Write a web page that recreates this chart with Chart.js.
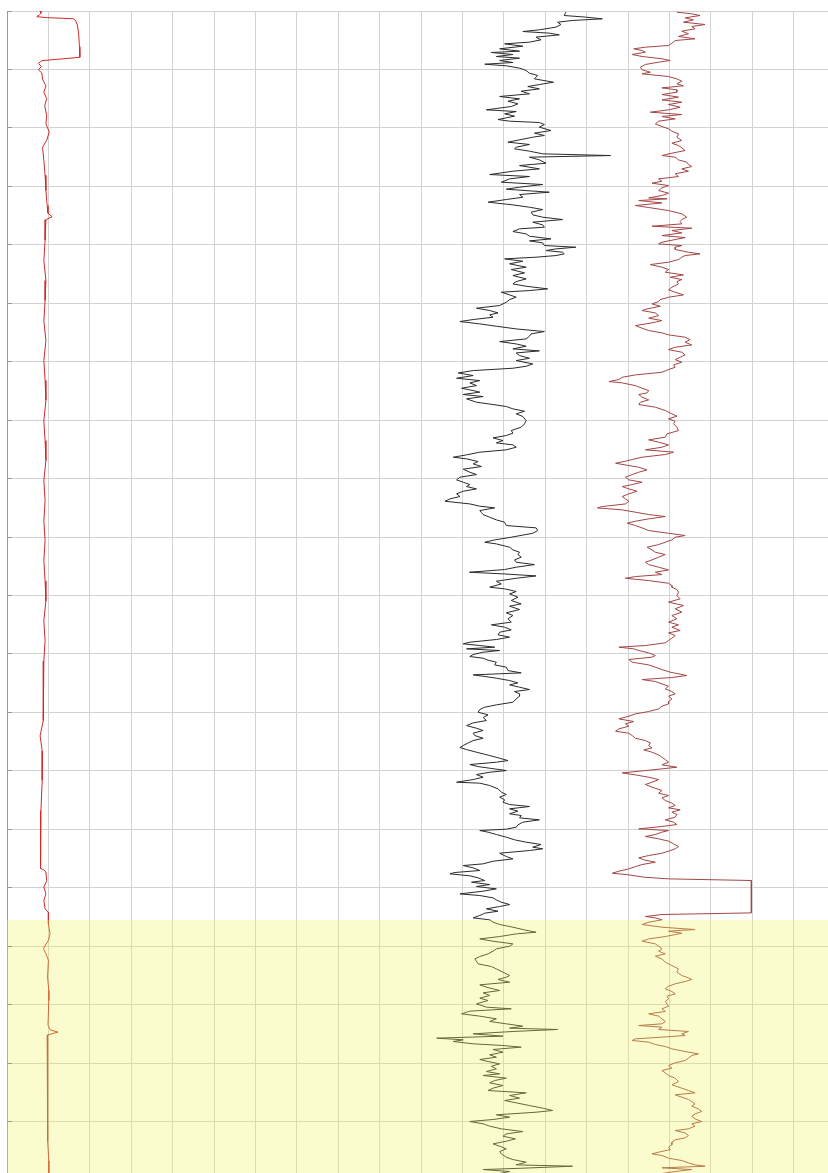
<!DOCTYPE html>
<html>
<head>
<meta charset="utf-8">
<style>
  html, body { margin: 0; padding: 0; background: #ffffff; overflow: hidden; }
  canvas { display: block; }
</style>
<script src="https://cdn.jsdelivr.net/npm/chart.js@4/dist/chart.umd.min.js"></script>
</head>
<body>
<canvas id="logChart" width="850" height="1195"></canvas>
<script>
// Depth / value pairs for each log track: [depth, reading]
const spLog = [
  [0.0,8.0],[0.4,8.2],[0.68,7.8],[0.97,7.2],[1.14,9.6],[1.31,16.0],[1.66,16.6],[2.39,17.0],[3.82,17.3],[6.1,17.5],
  [7.92,17.6],[8.5,8.4],[8.95,7.6],[9.5,8.3],[10.07,7.6],[10.6,8.4],[11.7,8.6],[12.8,9.4],[13.9,8.9],[15.0,9.6],
  [16.2,9.1],[17.9,9.6],[19.3,9.4],[20.7,10.2],[22.1,9.6],[23.3,8.6],[25.6,8.9],[28.1,9.2],[30.7,9.4],[33.3,9.7],
  [34.6,9.9],[35.2,10.9],[35.7,9.4],[39.2,9.2],[42.7,8.9],[46.1,9.4],[49.5,9.2],[53.0,8.9],[56.4,9.4],[59.8,8.9],
  [63.2,9.2],[66.6,9.4],[70.1,8.9],[73.5,9.2],[76.9,9.4],[80.3,8.9],[83.8,9.2],[87.2,8.9],[90.6,9.2],[94.0,8.9],
  [97.5,9.2],[100.9,9.4],[104.3,8.9],[107.7,9.2],[111.2,8.9],[114.6,8.7],[118.0,8.9],[121.4,8.7],[124.0,8.0],[126.6,8.5],
  [131.6,8.5],[136.8,8.2],[141.9,8.2],[146.7,8.0],[146.9,8.8],[147.3,9.4],[148.8,9.6],[149.9,8.9],[151.0,9.4],[152.2,8.9],
  [153.6,9.2],[154.2,10.0],[156.2,10.0],[157.9,10.4],[159.0,10.0],[160.4,8.8],[161.3,9.4],[162.4,10.0],[165.3,9.8],[167.6,10.1],
  [169.3,10.1],[173.5,9.9],[174.3,10.4],[174.7,12.3],[175.2,9.7],[179.6,9.7],[183.0,9.9],[186.4,9.9],[189.8,9.7],[193.3,9.9],
  [196.7,10.1],[200.0,10.1]
];

const grLog = [
  [0.20,135.0],[0.77,134.6],[1.05,139.8],[1.34,143.8],[1.62,136.6],[1.91,133.0],[2.31,133.8],[2.76,132.6],[3.22,128.6],[3.51,124.6],
  [3.79,131.0],[4.08,133.4],[4.47,127.8],[4.93,129.0],[5.33,126.2],[5.62,120.2],[6.02,124.6],[6.47,119.0],[6.87,123.8],[7.10,117.0],
  [7.44,122.2],[7.78,118.2],[8.07,123.8],[8.47,119.0],[8.81,122.2],[9.10,115.4],[9.38,120.6],[9.78,123.8],[10.18,125.4],[10.64,126.2],
  [11.03,128.2],[11.61,127.4],[12.18,132.0],[12.58,128.6],[12.92,125.8],[13.32,128.6],[13.72,124.2],[14.17,126.2],[14.63,119.0],[15.03,123.8],
  [15.43,121.0],[15.88,123.4],[16.34,121.8],[16.91,115.8],[17.20,123.0],[17.60,120.2],[17.99,122.6],[18.28,120.6],[18.57,118.6],[18.85,121.4],
  [19.08,128.6],[19.42,129.8],[19.88,128.6],[20.45,131.4],[20.90,127.4],[21.30,129.8],[21.59,127.0],[22.44,121.0],[22.84,126.2],[23.30,123.0],
  [23.58,122.6],[23.98,126.2],[24.44,129.4],[24.73,145.8],[25.01,126.2],[25.47,128.6],[26.04,130.2],[26.44,123.8],[27.01,128.6],[27.41,122.2],
  [27.98,116.6],[28.32,126.2],[28.72,121.4],[29.29,119.4],[29.69,129.4],[30.14,123.8],[30.49,120.6],[31.00,131.0],[31.40,123.8],
  [31.86,124.6],[32.25,120.6],[32.71,116.2],[33.17,122.2],[33.57,126.2],[33.97,129.4],[34.42,126.6],[34.88,127.0],[35.28,129.4],[35.68,134.2],
  [36.13,127.0],[36.59,129.4],[36.99,129.8],[37.27,123.8],[37.73,122.2],[38.13,125.4],[38.53,126.2],[38.99,131.4],[39.33,126.2],[39.67,129.4],
  [40.13,129.8],[40.41,137.4],[40.70,132.6],[40.98,130.2],[41.27,134.2],[41.55,134.6],[41.84,132.6],[42.12,127.8],[42.41,120.2],[42.81,124.6],
  [43.26,121.4],[43.83,125.4],[44.23,121.8],[44.80,125.0],[45.26,122.2],[45.83,125.4],[46.29,123.0],[46.69,122.2],[47.09,125.4],[47.54,130.6],
  [47.83,126.2],[48.11,119.4],[48.57,121.4],[48.97,123.0],[49.37,121.4],[49.82,120.6],[50.39,119.0],[50.85,113.4],[51.25,116.6],[51.65,118.6],
  [51.99,116.6],[52.39,117.4],[52.79,112.6],[53.13,109.4],[53.53,114.2],[53.93,118.2],[54.39,123.0],[54.84,129.8],[55.24,126.6],[55.64,126.2],
  [56.10,125.4],[56.56,119.0],[56.96,123.0],[57.35,125.4],[57.81,122.2],[58.15,128.6],[58.50,123.0],[58.95,123.8],[59.41,126.2],[59.81,123.0],
  [60.38,127.0],[60.78,125.4],[61.12,122.2],[61.52,112.6],[61.92,109.0],[62.37,112.6],[62.83,108.6],[63.23,114.2],[63.63,111.8],[64.09,113.4],
  [64.54,109.8],[64.94,112.6],
  [65.21,114.2],[65.61,110.2],[65.96,115.0],[66.36,111.0],[66.93,113.4],[67.33,117.4],[67.67,120.6],[68.07,122.2],[68.47,125.0],[68.92,123.0],
  [69.38,124.6],[70.06,125.4],[70.63,125.0],[71.20,124.2],[71.78,121.8],[72.23,122.2],[72.63,120.6],[73.03,117.4],[73.49,119.8],[73.89,118.2],
  [74.23,122.2],[74.63,123.0],[75.08,120.6],[75.48,114.2],[75.94,111.0],[76.34,107.8],[76.62,111.0],[77.08,113.8],[77.48,112.6],[77.94,114.6],
  [78.39,110.2],[78.91,111.8],[79.31,113.4],[79.76,109.4],[80.22,108.6],[80.62,110.2],[81.02,111.8],[81.36,111.0],[81.76,113.4],[82.16,110.2],
  [82.61,108.6],[83.07,109.4],[83.47,107.0],[83.87,105.8],[84.33,111.8],[84.72,114.2],[85.01,117.8],[85.47,114.2],[85.81,114.6],[86.15,115.0],
  [86.61,116.6],[87.06,118.2],[87.46,120.2],[88.03,120.6],[88.43,127.8],[88.89,128.2],[89.35,127.0],[90.03,121.8],[90.49,117.8],[90.89,115.4],
  [91.17,118.2],[91.74,121.4],[92.20,122.2],[92.60,123.8],[92.99,123.4],[93.45,124.2],[93.91,122.6],[94.31,123.0],[94.71,127.4],[95.16,123.0],
  [95.56,120.2],[96.02,111.7],[96.30,119.8],[96.65,127.8],[97.05,123.0],[97.56,118.2],[98.02,119.4],
  [98.58,116.6],[98.86,120.2],[99.32,123.0],[99.72,121.4],[100.29,123.4],[100.86,121.8],[101.43,124.2],[101.83,121.4],[102.40,123.8],[102.97,120.6],
  [103.42,122.2],[103.99,121.0],[104.56,121.8],[105.02,117.0],[105.42,120.2],[105.88,121.8],[106.28,119.0],[106.73,118.6],[107.13,121.4],[107.53,118.2],
  [107.99,111.8],[108.27,110.2],[108.56,114.2],[108.84,117.8],[109.13,111.0],[109.41,119.0],[109.70,115.0],[110.10,112.6],[110.44,111.8],[110.73,115.0],
  [111.07,116.2],[111.41,118.2],[111.87,117.8],[112.27,120.6],[112.84,121.0],[113.24,124.2],[113.58,112.6],[113.81,115.0],[114.15,118.2],[114.55,121.4],
  [114.95,123.4],[115.29,121.4],[115.69,123.8],[116.09,126.2],[116.43,122.6],[116.83,123.8],[117.23,123.8],[117.69,123.0],[118.26,122.2],[118.71,118.2],
  [119.11,115.4],[119.51,114.2],[119.97,113.8],[120.42,116.2],[120.88,115.0],[121.39,115.8],[121.79,112.6],[122.25,111.0],[122.71,113.4],[123.10,115.0],
  [123.56,112.6],[123.96,113.0],[124.42,115.0],[124.82,112.6],[125.22,111.4],[125.67,110.2],[126.01,109.4],[126.36,111.0],[126.81,113.4],[127.38,116.6],
  [127.84,119.0],[128.24,121.0],[128.52,118.2],[128.92,111.8],[129.27,113.8],[129.55,116.6],[129.95,120.6],[130.24,116.6],[130.63,113.4],[131.09,115.0],
  [131.49,112.6],
  [131.94,108.6],[132.11,114.2],[132.51,116.6],[133.08,118.6],[133.65,119.4],[134.05,120.6],[134.50,119.0],[134.96,120.2],[135.36,119.8],[135.76,121.4],
  [136.10,126.2],[136.50,121.4],[136.90,123.4],[137.35,121.4],[137.64,124.2],[138.04,123.8],[138.38,128.6],[138.78,124.6],[139.24,123.4],[139.64,123.0],
  [139.98,120.6],[140.21,114.2],[140.49,116.2],[140.89,118.2],[141.35,120.6],[141.80,122.6],[142.20,125.4],[142.60,129.0],[143.06,127.0],[143.34,129.4],
  [143.63,126.2],[144.09,119.0],[144.66,120.6],[145.06,122.2],[145.46,117.4],[145.91,115.0],[146.20,110.2],[146.60,112.6],[147.05,114.2],[147.39,108.2],
  [147.62,107.0],[147.96,111.8],[148.31,113.8],[148.76,115.4],[149.05,112.2],[149.45,116.6],[149.79,113.4],[150.19,118.2],[150.59,115.0],[151.05,109.4],
  [151.33,114.2],[151.73,117.4],[152.07,118.2],[152.47,119.4],[152.87,121.4],[153.21,119.0],[153.61,115.8],[154.01,118.6],[154.35,115.4],[154.75,114.2],
  [155.15,112.6],[155.49,116.6],[155.89,117.4],[156.29,119.0],[156.75,122.2],[157.21,125.0],[157.61,127.8],[157.89,123.0],[158.35,119.0],[158.75,114.2],
  [159.15,117.4],[159.60,122.2],[160.00,121.4],[160.46,118.2],[160.86,117.4],[161.31,116.2],[161.77,114.2],[162.17,113.0],[162.57,113.4],[163.02,113.8],
  [163.48,117.0],[163.88,118.2],[164.45,119.8],[165.02,121.4],
  [165.30,120.6],[165.69,118.6],[166.15,121.4],[166.61,114.2],[167.01,115.8],[167.58,119.0],[167.98,115.0],[168.43,116.6],[168.89,114.2],[169.29,116.2],
  [169.86,113.4],[170.43,115.8],[170.71,121.8],[171.11,111.8],[171.57,109.8],[171.97,114.2],[172.43,118.2],[172.88,116.6],[173.28,120.6],[173.68,124.6],
  [174.02,121.4],[174.25,133.0],[174.59,122.2],[174.99,112.6],[175.39,119.8],[175.73,103.8],[176.02,110.2],[176.30,107.8],[176.70,112.6],[176.99,119.8],
  [177.27,124.2],[177.67,117.4],[178.13,119.8],[178.59,116.6],[178.99,118.2],[179.38,114.2],[179.73,116.2],[180.13,119.0],[180.53,117.0],[180.98,118.2],
  [181.44,115.8],[181.84,119.0],[182.12,115.0],[182.58,120.6],[182.98,117.8],[183.38,116.6],[183.83,119.8],[184.29,117.4],[184.69,116.2],[185.09,125.4],
  [185.55,121.4],[186.00,123.8],[186.40,120.2],[186.80,123.0],[187.26,126.2],[187.71,129.4],[188.11,131.8],[188.40,127.8],[188.85,118.2],[189.25,121.4],
  [189.65,117.4],[189.99,111.8],[190.39,115.0],[190.79,116.6],[191.25,119.4],[191.71,124.6],[192.11,120.6],[192.51,119.8],[192.96,122.8],[193.36,120.6],
  [193.82,117.4],[194.22,119.0],[194.67,120.6],[195.13,119.0],[195.53,119.4],[196.10,120.6],[196.50,122.2],[196.95,125.4],[197.41,123.0],[197.64,136.6],
  [197.98,124.6],[198.21,115.0],[198.55,121.4],[198.89,119.0]
];

const rtLog = [
  [0.20,161.8],[0.48,165.4],[0.77,167.4],[1.17,163.8],[1.51,165.8],[1.91,163.4],[2.31,168.6],[2.65,165.4],[3.05,166.2],[3.45,163.0],
  [3.90,164.6],[4.36,162.2],[4.76,166.2],[5.05,161.4],[5.50,160.6],[5.90,159.8],[6.19,154.2],[6.47,151.4],[6.76,153.4],[7.04,154.2],
  [7.44,151.0],[7.78,153.4],[8.18,158.2],[8.47,160.2],[8.75,157.4],[9.15,154.2],[9.61,153.0],[10.07,153.4],[10.47,155.4],[10.75,153.4],
  [11.21,159.8],[11.61,161.8],[12.01,163.0],[12.46,161.8],[12.80,163.4],[13.15,158.2],[13.49,161.8],[13.89,161.8],[14.29,158.2],[14.74,162.2],
  [15.20,158.2],[15.60,163.0],[16.00,159.8],[16.46,162.6],[16.91,159.8],[17.31,155.4],[17.71,163.0],[18.05,158.2],[18.45,161.4],[18.85,157.4],
  [19.31,156.6],[19.76,158.2],[20.16,159.8],[20.56,160.6],[21.02,162.2],[21.59,161.8],[22.16,163.0],[22.62,160.6],[23.02,162.2],[23.42,163.0],
  [23.87,163.8],[24.33,160.6],[24.73,158.2],[25.01,161.4],[25.47,162.2],[25.87,164.2],[26.27,164.6],[26.61,165.4],[27.01,163.0],[27.41,164.6],
  [27.86,161.4],[28.32,162.2],[28.72,157.4],[29.12,158.2],[29.46,155.8],[29.86,159.8],[30.26,158.2],[30.72,157.4],[31.17,159.8],[31.57,158.2],
  [31.97,155.0],
  [32.14,159.4],[32.43,152.6],[32.83,158.2],[33.28,151.8],[33.62,155.0],[34.14,159.8],[34.71,163.0],[35.28,164.2],[35.68,163.0],[36.02,162.6],
  [36.42,163.0],[36.82,155.8],[37.16,165.4],[37.56,160.6],[37.96,163.0],[38.42,158.2],[38.76,163.8],[39.10,161.4],[39.56,158.2],[39.84,157.4],
  [40.13,163.0],[40.41,161.4],[40.81,161.4],[41.27,164.6],[41.55,167.4],[41.84,163.8],[42.12,163.0],[42.52,162.2],[42.98,159.8],[43.38,155.4],
  [43.83,158.2],[44.23,159.8],[44.69,159.0],[45.15,163.4],[45.55,160.2],[45.95,163.0],[46.29,161.8],[46.69,162.2],[47.26,160.6],[47.71,159.8],
  [48.11,161.4],[48.57,163.4],[48.97,159.8],[49.37,157.8],[49.71,157.4],[50.11,155.8],[50.51,157.8],[50.97,154.6],[51.25,153.4],[51.65,156.6],
  [52.11,157.4],[52.56,155.0],[52.96,158.2],[53.36,155.8],[53.82,151.8],[54.27,153.4],[54.67,155.0],[55.07,158.2],[55.41,159.8],[55.81,163.8],
  [56.21,165.0],[56.67,163.8],[57.13,165.4],[57.53,161.4],[57.93,159.8],[58.38,163.0],[58.84,163.8],[59.24,162.6],[59.64,161.4],[60.09,163.0],
  [60.55,161.0],[60.95,161.4],[61.35,159.8],[61.80,158.2],[62.26,151.8],[62.66,148.6],[63.06,147.8],[63.40,145.4],[63.63,148.6],[64.09,151.8],
  [64.54,153.4],[64.94,155.0],[65.34,154.6],
  [65.61,152.6],[66.07,153.4],[66.53,155.0],[66.93,153.0],[67.33,152.6],[67.78,156.6],[68.35,159.0],[68.92,160.6],[69.32,161.8],[69.78,159.8],
  [70.18,161.4],[70.63,161.0],[71.20,161.8],[71.78,162.2],[72.35,159.4],[72.92,159.0],[73.37,155.0],[73.77,157.4],[74.23,159.8],[74.63,158.2],
  [75.08,154.2],[75.48,161.0],[75.88,159.0],[76.34,153.4],[76.74,151.0],[77.02,149.4],[77.37,147.0],[77.77,150.2],[78.05,152.6],[78.51,154.6],
  [78.91,152.6],[79.31,151.0],[79.76,149.4],[80.22,150.2],[80.62,153.4],[81.02,151.0],[81.36,148.6],[81.76,150.2],[82.16,152.2],[82.61,150.2],
  [83.07,148.6],[83.47,149.4],[83.87,150.2],[84.33,149.4],[84.78,143.8],[85.01,142.6],[85.35,148.6],[85.75,151.8],[86.15,155.0],[86.49,159.0],
  [86.89,155.0],[87.29,151.8],[87.63,149.8],[88.03,151.8],[88.43,153.4],[88.89,155.0],[89.35,159.8],[89.74,163.8],[90.03,161.4],[90.49,160.6],
  [90.89,159.0],[91.29,157.4],[91.74,154.6],[92.20,155.8],[92.60,156.6],[92.99,159.0],[93.45,157.4],[93.91,155.8],[94.31,154.2],[94.71,155.0],
  [95.16,157.4],[95.62,159.8],[96.02,156.6],[96.42,158.2],[96.76,151.8],[97.05,149.4],[97.45,155.0],[97.90,159.8],[98.30,160.6],
  [98.58,160.6],[98.97,161.8],[99.43,162.2],[100.00,161.8],[100.57,162.6],[101.14,159.8],[101.71,163.4],[102.28,161.4],[102.85,163.0],[103.42,160.6],
  [103.99,161.8],[104.56,159.8],[105.02,162.2],[105.42,160.6],[105.99,162.6],[106.39,159.8],[106.85,161.4],[107.30,160.6],[107.70,159.8],[108.10,159.0],
  [108.56,154.2],[108.84,147.8],[109.13,151.4],[109.41,152.6],[109.81,155.0],[110.27,156.6],[110.55,155.8],[110.95,150.2],[111.41,151.0],[111.87,155.0],
  [112.27,156.6],[112.67,158.2],[113.12,160.2],[113.69,164.2],[114.03,160.6],[114.38,153.4],[114.72,156.6],[115.12,158.2],[115.52,159.8],[115.97,159.0],
  [116.43,160.6],[116.83,161.4],[117.23,159.8],[117.69,160.6],[118.14,159.8],[118.54,159.8],[118.94,158.2],[119.40,157.4],[119.85,155.0],[120.25,151.8],
  [120.65,150.2],[121.11,147.8],[121.56,151.4],[121.96,149.4],[122.36,150.2],[122.82,147.8],[123.22,147.0],[123.56,150.2],[123.96,151.0],[124.42,151.8],
  [124.82,154.2],[125.22,155.4],[125.67,155.0],[126.07,155.8],[126.41,153.8],[126.81,155.8],[127.27,157.4],[127.67,158.2],[128.07,159.0],[128.52,159.8],
  [128.98,158.2],[129.38,161.8],[129.66,158.2],[130.01,153.4],[130.35,148.6],[130.69,151.8],[131.09,155.0],[131.49,157.4],[131.95,155.8],
  [132.33,154.2],[132.79,155.8],[133.36,158.2],[133.82,157.4],[134.22,159.8],[134.62,158.2],[135.07,159.0],[135.53,160.6],[135.93,161.4],[136.33,159.8],
  [136.67,162.6],[137.07,160.6],[137.47,161.8],[137.93,161.4],[138.38,159.0],[138.78,161.0],[139.18,161.8],[139.52,158.2],[139.92,152.6],[140.21,159.8],
  [140.49,158.2],[140.89,156.6],[141.23,154.2],[141.63,157.4],[142.03,159.8],[142.49,161.0],[142.95,162.2],[143.34,161.4],[143.74,159.8],[144.09,158.2],
  [144.49,155.0],[144.88,152.6],[145.23,153.8],[145.63,156.6],[146.03,153.4],[146.37,151.8],[146.77,150.2],[147.17,147.8],[147.51,146.2],[147.79,150.2],
  [148.19,153.8],[148.48,159.8],[148.76,179.8],[154.30,179.8],[154.58,158.2],[154.92,154.2],[155.15,156.6],[155.49,158.2],[155.89,155.0],[156.29,153.4],
  [156.75,158.2],[157.15,166.2],[157.43,159.8],[157.78,163.0],[158.01,161.4],[158.35,159.0],[158.75,155.0],[159.15,153.4],[159.60,156.6],[160.00,157.4],
  [160.46,158.2],[160.86,157.4],[161.31,159.0],[161.71,156.6],[162.17,158.2],[162.74,159.0],[163.31,160.6],[163.88,162.2],[164.45,161.8],[165.02,163.0],
  [165.42,164.6],
  [165.69,165.4],[166.04,163.8],[166.44,161.4],[166.84,159.8],[167.29,159.0],[167.75,160.6],[168.15,161.4],[168.55,159.4],[169.00,159.8],[169.46,159.0],
  [169.86,159.4],[170.26,159.8],[170.71,158.2],[171.17,159.0],[171.57,155.0],[171.97,157.4],[172.43,158.2],[172.88,159.0],[173.28,158.2],[173.57,152.6],
  [173.85,158.2],[174.25,157.4],[174.59,164.6],[174.99,163.0],[175.28,163.8],[175.56,158.2],[175.85,151.8],[176.13,151.0],[176.42,155.0],[176.82,156.6],
  [177.16,159.0],[177.56,160.6],[178.02,163.8],[178.42,167.0],[178.70,165.4],[179.16,164.6],[179.56,163.8],[179.96,161.4],[180.41,159.8],[180.87,160.6],
  [181.27,158.2],[181.67,159.0],[182.12,159.8],[182.58,161.4],[183.15,162.2],[183.72,160.6],[184.29,163.0],[184.69,164.6],[185.09,166.2],[185.43,161.4],
  [185.83,163.0],[186.23,164.6],[186.57,165.4],[186.97,166.2],[187.37,165.4],[187.83,167.0],[188.28,167.8],[188.68,166.2],[189.08,165.4],[189.54,166.2],
  [190.00,167.8],[190.39,165.4],[190.79,166.2],[191.25,164.6],[191.54,161.4],[191.94,163.8],[192.39,164.6],[192.79,163.8],[193.13,161.4],[193.53,160.6],
  [193.99,160.6],[194.39,159.8],[194.79,160.2],[195.24,157.4],[195.53,155.8],[195.81,158.2],[196.27,159.8],[196.67,163.0],[197.07,164.6],[197.41,166.2],
  [197.64,168.6],[197.92,158.2],[198.21,165.4],[198.55,161.4],[198.89,158.2]
];

// Axis ranges and grid spacing
const depthRange = [0, 200];
const readingRange = [0, 200];
const gridStep = 10;
// Depth interval of the highlighted zone
const zoneInterval = [155.5, 200];

const toPoints = log => log.map(([depth, reading]) => ({ x: reading, y: depth }));

// Translucent zone wash plus short inner ticks on the depth axis
const zonePlugin = {
  id: 'zoneWash',
  afterDatasetsDraw(chart) {
    const { ctx, chartArea, scales } = chart;
    const top = scales.y.getPixelForValue(zoneInterval[0]);
    const bottom = scales.y.getPixelForValue(zoneInterval[1]);
    ctx.save();
    ctx.fillStyle = 'rgba(240,246,90,0.30)';
    ctx.fillRect(chartArea.left, top, chartArea.right - chartArea.left, bottom - top);
    ctx.strokeStyle = '#9a9a9a';
    ctx.lineWidth = 1;
    ctx.beginPath();
    scales.y.ticks.forEach(t => {
      const py = Math.floor(scales.y.getPixelForValue(t.value)) + 0.5;
      ctx.moveTo(chartArea.left, py);
      ctx.lineTo(chartArea.left + 5, py);
    });
    ctx.stroke();
    ctx.restore();
  }
};

const lineStyle = color => ({
  showLine: true,
  borderColor: color,
  backgroundColor: color,
  borderWidth: 1,
  pointRadius: 0,
  pointHoverRadius: 0,
  tension: 0,
  fill: false
});

new Chart(document.getElementById('logChart'), {
  type: 'scatter',
  data: {
    datasets: [
      { label: 'SP', data: toPoints(spLog), ...lineStyle('#cf2a2a') },
      { label: 'GR', data: toPoints(grLog), ...lineStyle('#2a2a2a') },
      { label: 'RT', data: toPoints(rtLog), ...lineStyle('#a24646') }
    ]
  },
  options: {
    responsive: false,
    animation: false,
    devicePixelRatio: 1,
    layout: { padding: { left: 7, top: 11, right: 15, bottom: 15 } },
    plugins: { legend: { display: false }, tooltip: { enabled: false } },
    events: [],
    scales: {
      x: {
        type: 'linear',
        position: 'bottom',
        min: readingRange[0],
        max: readingRange[1],
        ticks: { display: false, stepSize: gridStep },
        grid: { color: '#d2d2d2', lineWidth: 1, drawTicks: false },
        border: { display: false }
      },
      y: {
        type: 'linear',
        position: 'left',
        reverse: true,
        min: depthRange[0],
        max: depthRange[1],
        ticks: { display: false, stepSize: gridStep },
        grid: { color: '#d2d2d2', lineWidth: 1, drawTicks: false },
        border: { display: true, color: '#9a9a9a', width: 1 }
      }
    }
  },
  plugins: [zonePlugin]
});
</script>
</body>
</html>
